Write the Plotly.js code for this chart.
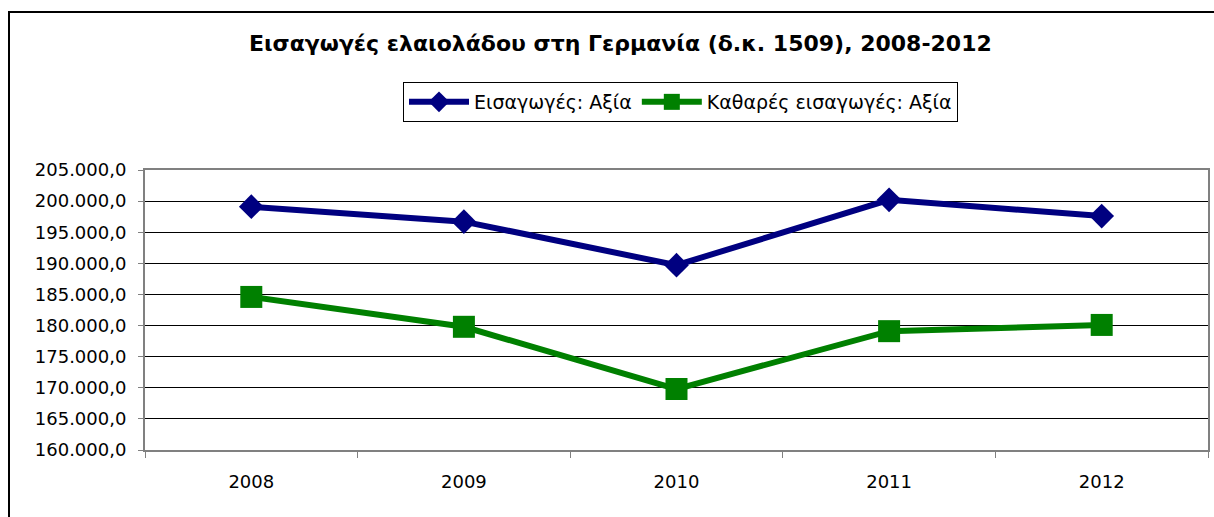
<!DOCTYPE html>
<html>
<head>
<meta charset="utf-8">
<script src="https://cdn.plot.ly/plotly-3.0.1.min.js"></script>
<style>html,body{margin:0;padding:0;background:#fff;} #chart{width:1214px;height:517px;}</style>
</head>
<body>
<div id="chart"></div>
<script>
const years = ["2008", "2009", "2010", "2011", "2012"];
const importsValue = [199100, 196700, 189700, 200200, 197600];
const netImportsValue = [184600, 179800, 169800, 179100, 180100];
const seriesNames = ["Εισαγωγές: Αξία", "Καθαρές εισαγωγές: Αξία"];
const chartTitle = "Εισαγωγές ελαιολάδου στη Γερμανία (δ.κ. 1509), 2008-2012";

const FONT = "DejaVu Sans, Liberation Sans, Arial, sans-serif";

const traces = [
  {
    x: years, y: importsValue, name: seriesNames[0], type: "scatter", mode: "lines+markers",
    line: {color: "#000080", width: 6},
    marker: {symbol: "diamond", size: 19, color: "#000080"}
  },
  {
    x: years, y: netImportsValue, name: seriesNames[1], type: "scatter", mode: "lines+markers",
    line: {color: "#008000", width: 6},
    marker: {symbol: "square", size: 22, color: "#008000"}
  }
];

const layout = {
  width: 1214, height: 517,
  margin: {l: 145, r: 6, t: 170, b: 67},
  paper_bgcolor: "#fff", plot_bgcolor: "#fff",
  separators: ",.",
  font: {family: FONT, color: "#000", size: 17},
  showlegend: true,
  title: {
    text: "<b>" + chartTitle + "</b>",
    font: {family: FONT, size: 22, color: "#000"},
    xref: "container", yref: "container",
    x: 0.511, xanchor: "center", y: 1 - 43/517, yanchor: "middle"
  },
  legend: {
    orientation: "h",
    xref: "container", yref: "container",
    x: 403/1214, xanchor: "left", y: 1 - 82/517, yanchor: "top",
    bordercolor: "#000", borderwidth: 1, bgcolor: "#fff",
    font: {family: FONT, size: 19, color: "#000"},
    itemwidth: 60, tracegroupgap: 0
  },
  xaxis: {
    type: "category",
    range: [-0.5, 4.5],
    tickson: "boundaries",
    ticks: "outside", ticklen: 6, tickcolor: "#808080", tickwidth: 1,
    showline: true, linecolor: "#808080", linewidth: 2, mirror: true,
    showgrid: false, zeroline: false,
    tickfont: {family: FONT, size: 18, color: "#000"},
    ticklabelstandoff: 14,
    fixedrange: true
  },
  yaxis: {
    range: [160000, 205000], dtick: 5000, tick0: 160000,
    tickformat: ",.1f",
    ticks: "outside", ticklen: 5, tickcolor: "#808080", tickwidth: 1,
    showline: true, linecolor: "#808080", linewidth: 2, mirror: true,
    showgrid: true, gridcolor: "#000", gridwidth: 1, zeroline: false,
    tickfont: {family: FONT, size: 18, color: "#000"},
    ticklabelstandoff: 8,
    fixedrange: true
  },
  shapes: [
    {type: "rect", xref: "paper", yref: "paper",
     x0: (9 - 145)/1063, x1: 1.05, y0: -0.3, y1: (450 - 12)/280,
     line: {color: "#000", width: 2}, fillcolor: "rgba(0,0,0,0)", layer: "below"}
  ]
};

Plotly.newPlot("chart", traces, layout, {displayModeBar: false, staticPlot: true});
</script>
</body>
</html>
